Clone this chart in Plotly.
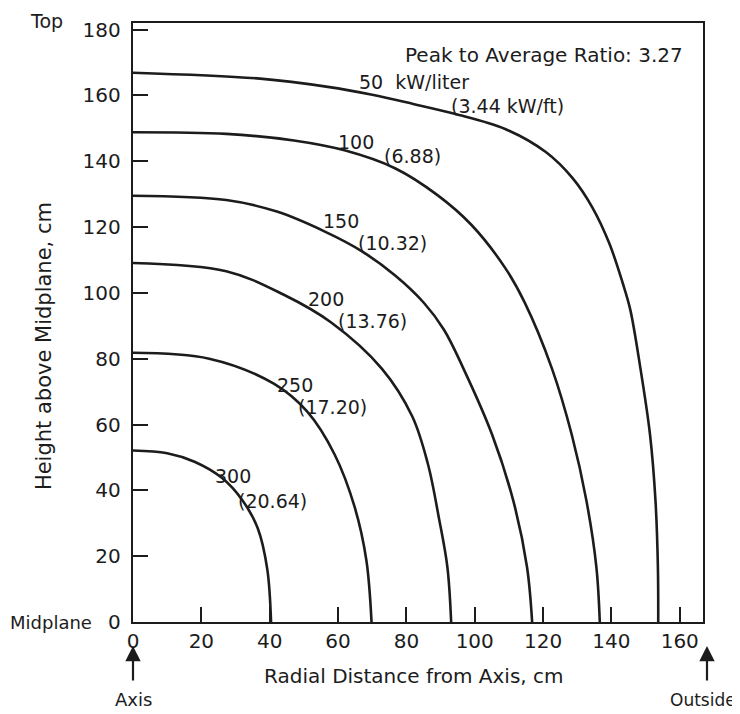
import plotly.graph_objects as go

# ---- data (radial distance r, height z; cm) ----
levels_kw_liter = ["50", "100", "150", "200", "250", "300"]
levels_kw_ft = ["3.44", "6.88", "10.32", "13.76", "17.20", "20.64"]

r_50 = [0, 37.2, 57, 70, 82, 94.1, 108.9, 120.8, 128.7, 134.4, 139.4, 143.3, 145.5, 148.5, 151.3, 152.9, 153.6, 153.7]
z_50 = [166.9, 165.1, 162.6, 160.2, 157.4, 154.4, 149.8, 142.8, 134.8, 126.0, 115.0, 103.0, 95, 77, 56.9, 36.8, 16.7, 0]

r_100 = [0, 27.3, 47.1, 61.9, 76.8, 89.1, 99, 108.9, 114.6, 122.6, 128.4, 132.7, 135.6, 136.6]
z_100 = [148.8, 148.3, 146.3, 143.3, 137.8, 129.7, 120.7, 107.6, 97.1, 77, 56.9, 36.8, 16.7, 0]

r_150 = [0, 27.3, 42.1, 56, 66.9, 76.8, 85.1, 91, 96.7, 105.1, 111.3, 115.3, 116.8]
z_150 = [129.5, 128.2, 124.7, 118.7, 112.7, 105.2, 97, 88.8, 77, 56.9, 36.8, 16.7, 0]

r_200 = [0, 27.3, 44, 58, 72.8, 81.7, 86.3, 89.5, 92, 93.1]
z_200 = [109.1, 106.6, 99.5, 91, 77, 62.5, 48, 31.7, 16.7, 0]

r_250 = [0, 22.3, 41.2, 51, 59, 64.9, 68.3, 69.8]
z_250 = [81.8, 80, 72.4, 63.9, 50.9, 34.8, 18.7, 0]

r_300 = [0, 10, 18, 26, 32, 36.5, 39.3, 40.4]
z_300 = [52.1, 51.3, 48.7, 43.8, 37, 28.5, 16, 0]

x_ticks = [0, 20, 40, 60, 80, 100, 120, 140, 160]
y_ticks = [0, 20, 40, 60, 80, 100, 120, 140, 160, 180]

INK = "#1c1c1c"
FONT = "DejaVu Sans"

fig = go.Figure()
for r, z in [(r_50, z_50), (r_100, z_100), (r_150, z_150),
             (r_200, z_200), (r_250, z_250), (r_300, z_300)]:
    fig.add_trace(go.Scatter(x=r, y=z, mode="lines",
                             line=dict(color=INK, width=2.6, shape="spline", smoothing=1.0),
                             showlegend=False, hoverinfo="skip"))

ann = []
def txt(t, x, y, size=19, xref="x", yref="y", xanchor="left", yanchor="middle", angle=0):
    ann.append(dict(text=t, x=x, y=y, xref=xref, yref=yref, xanchor=xanchor,
                    yanchor=yanchor, showarrow=False, textangle=angle,
                    font=dict(family=FONT, size=size, color=INK)))

# contour labels
lab_pos = [((65.5, 164.0), (92.5, 156.8)),
           ((59.5, 145.9), (72.8, 141.7)),
           ((55.0, 121.7), (65.4, 115.2)),
           ((50.5, 98.1), (59.4, 91.6)),
           ((41.6, 72.0), (47.6, 65.4)),
           ((23.3, 44.3), (30.2, 36.8))]
for i, (kl, kf) in enumerate(zip(levels_kw_liter, levels_kw_ft)):
    (x1, y1), (x2, y2) = lab_pos[i]
    if i == 0:
        txt(kl + "  kW/liter", x1, y1)
        txt("(" + kf + " kW/ft)", x2, y2)
    else:
        txt(kl, x1, y1)
        txt("(" + kf + ")", x2, y2)

txt("Peak to Average Ratio: 3.27", 79.0, 172.4, size=20)

# side / bottom labels
txt("Top", -0.151, 1.004, size=19, xref="paper", yref="paper", xanchor="center")
txt("Midplane", -0.068, 0, size=18, xref="paper", xanchor="right")
txt("Radial Distance from Axis, cm", 0.493, -0.09, size=20, xref="paper", yref="paper",
    xanchor="center")
txt("Height above Midplane, cm", -0.155, 0.46, size=21, xref="paper", yref="paper",
    xanchor="center", angle=-90)
txt("Axis", 0.0, -0.13, size=18, xref="paper", yref="paper", xanchor="center")
txt("Outside", 1.0, -0.13, size=17, xref="paper", yref="paper", xanchor="center")

# arrows
for xp in [0.0, 1.007]:
    ann.append(dict(x=xp, y=-0.04, xref="paper", yref="paper", ax=0, ay=36,
                    text="", showarrow=True, arrowhead=2, arrowsize=1.4,
                    arrowwidth=2.2, arrowcolor=INK))

fig.update_layout(
    width=732, height=706,
    margin=dict(l=125, r=37, t=10, b=92),
    paper_bgcolor="white", plot_bgcolor="white",
    font=dict(family=FONT, color=INK),
    annotations=ann,
    xaxis=dict(range=[0, 166.8], tickvals=x_ticks, ticktext=[str(v) for v in x_ticks],
               ticks="inside", ticklen=15, tickwidth=2, tickcolor=INK,
               showline=True, linewidth=2.4, linecolor=INK, mirror=True,
               showgrid=False, zeroline=False, tickfont=dict(size=20, family=FONT, color=INK)),
    yaxis=dict(range=[0, 182], tickvals=y_ticks, ticktext=[str(v) for v in y_ticks],
               ticks="inside", ticklen=15, tickwidth=2, tickcolor=INK,
               showline=True, linewidth=2.4, linecolor=INK, mirror=True,
               showgrid=False, zeroline=False, ticklabelstandoff=6,
               tickfont=dict(size=20, family=FONT, color=INK)),
)

fig.write_html("out.html")
